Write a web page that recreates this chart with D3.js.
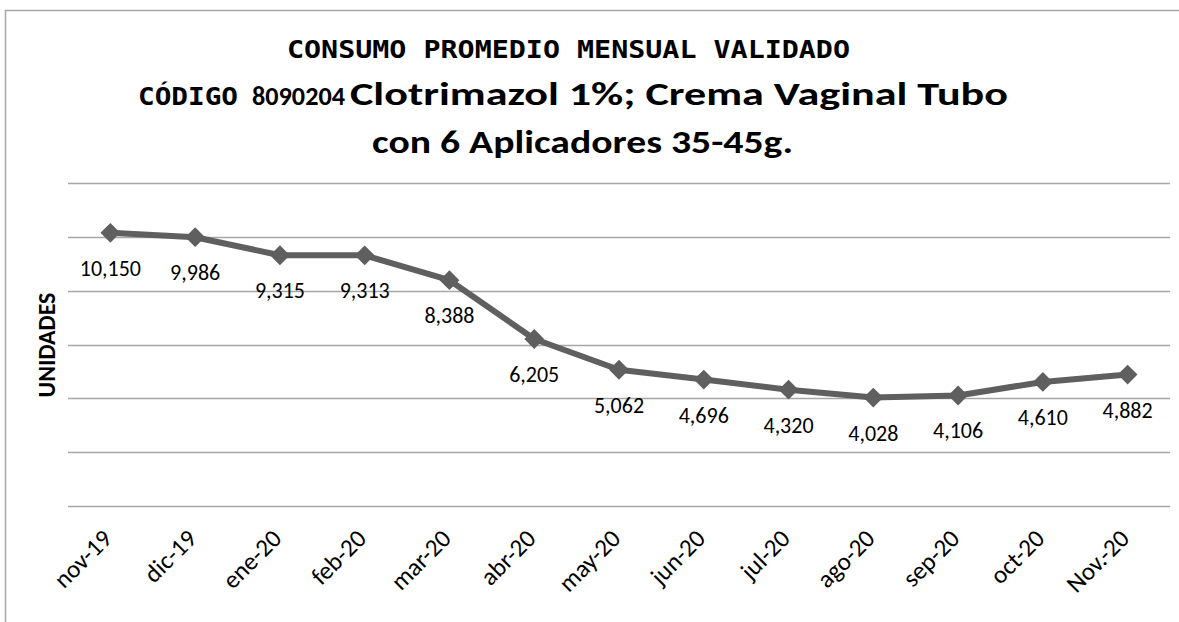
<!DOCTYPE html>
<html>
<head>
<meta charset="utf-8">
<script src="https://cdn.jsdelivr.net/npm/d3@7"></script>
<style>
  body { margin: 0; background: #fff; }
  svg { display: block; }
</style>
</head>
<body>
<div id="chart"></div>
<script>
// data
var months = ["nov-19", "dic-19", "ene-20", "feb-20", "mar-20", "abr-20", "may-20",
              "jun-20", "jul-20", "ago-20", "sep-20", "oct-20", "Nov.-20"];
var consumo = [10150, 9986, 9315, 9313, 8388, 6205, 5062, 4696, 4320, 4028, 4106, 4610, 4882];
var yTicks = [0, 2000, 4000, 6000, 8000, 10000, 12000];

var W = 1179, H = 622;
var plot = {left: 68, right: 1170, top: 183, bottom: 506};
var sans = "Carlito, Lato, 'Open Sans', sans-serif";
var mono = "'DejaVu Sans Mono', monospace";

var svg = d3.select("#chart").append("svg")
    .attr("width", W)
    .attr("height", H);

// outer frame
svg.append("rect")
    .attr("x", 5.5).attr("y", 10.5)
    .attr("width", W + 40).attr("height", H + 40)
    .style("fill", "none")
    .style("stroke", "#a6a6a6")
    .style("stroke-width", 1.5);

var x = d3.scaleBand()
    .domain(months)
    .range([plot.left, plot.right]);

var y = d3.scaleLinear()
    .domain([0, 12000])
    .range([plot.bottom, plot.top]);

// gridlines
svg.append("g").selectAll("line")
    .data(yTicks)
    .enter().append("line")
    .attr("x1", plot.left)
    .attr("x2", plot.right)
    .attr("y1", function(d) { return Math.round(y(d)) + 0.5; })
    .attr("y2", function(d) { return Math.round(y(d)) + 0.5; })
    .style("stroke", "#a6a6a6")
    .style("stroke-width", 1.5);

// x labels (rotated)
svg.append("g").selectAll("text")
    .data(months)
    .enter().append("text")
    .attr("transform", function(d) {
        return "translate(" + (x(d) + x.bandwidth() / 2 + 3) + ",540) rotate(-45)";
    })
    .attr("text-anchor", "end")
    .style("font-family", sans)
    .style("font-size", "25px")
    .style("fill", "#000")
    .text(function(d) { return d; });

// y axis title
svg.append("text")
    .attr("transform", "translate(55,345) rotate(-90)")
    .attr("text-anchor", "middle")
    .style("font-family", sans)
    .style("font-weight", "bold")
    .style("font-size", "24px")
    .text("UNIDADES");

// line
var pts = months.map(function(m, i) { return {m: m, v: consumo[i]}; });

var line = d3.line()
    .x(function(d) { return x(d.m) + x.bandwidth() / 2; })
    .y(function(d) { return y(d.v); });

svg.append("path")
    .datum(pts)
    .attr("d", line)
    .style("fill", "none")
    .style("stroke", "#5f5f5f")
    .style("stroke-width", 6)
    .style("stroke-linejoin", "round");

// diamond markers
svg.append("g").selectAll("path")
    .data(pts)
    .enter().append("path")
    .attr("d", d3.symbol().type(d3.symbolDiamond2).size(250))
    .attr("transform", function(d) {
        return "translate(" + (x(d.m) + x.bandwidth() / 2) + "," + y(d.v) + ")";
    })
    .style("fill", "#5f5f5f");

// value labels below points
var fmt = d3.format(",");
svg.append("g").selectAll("text")
    .data(pts)
    .enter().append("text")
    .attr("x", function(d) { return x(d.m) + x.bandwidth() / 2; })
    .attr("y", function(d) { return y(d.v) + 43; })
    .attr("text-anchor", "middle")
    .style("font-family", sans)
    .style("font-size", "22px")
    .style("fill", "#000")
    .text(function(d) { return fmt(d.v); });

// titles
svg.append("text")
    .attr("x", 287).attr("y", 58)
    .attr("textLength", 563)
    .attr("lengthAdjust", "spacingAndGlyphs")
    .style("font-family", mono)
    .style("font-weight", "bold")
    .style("font-size", "25px")
    .text("CONSUMO PROMEDIO MENSUAL VALIDADO");

svg.append("text")
    .attr("x", 138).attr("y", 105)
    .attr("textLength", 100)
    .attr("lengthAdjust", "spacingAndGlyphs")
    .style("font-family", mono)
    .style("font-weight", "bold")
    .style("font-size", "25px")
    .text("CÓDIGO");

svg.append("text")
    .attr("x", 252).attr("y", 105)
    .attr("textLength", 93)
    .attr("lengthAdjust", "spacingAndGlyphs")
    .style("font-family", sans)
    .style("font-weight", "bold")
    .style("font-size", "27px")
    .text("8090204");

svg.append("text")
    .attr("x", 350).attr("y", 105)
    .attr("textLength", 658)
    .attr("lengthAdjust", "spacingAndGlyphs")
    .style("font-family", sans)
    .style("font-weight", "bold")
    .style("font-size", "33px")
    .text("Clotrimazol 1%; Crema Vaginal Tubo");

svg.append("text")
    .attr("x", 372).attr("y", 153)
    .attr("textLength", 421)
    .attr("lengthAdjust", "spacingAndGlyphs")
    .style("font-family", sans)
    .style("font-weight", "bold")
    .style("font-size", "33px")
    .text("con 6 Aplicadores 35-45g.");
</script>
</body>
</html>
